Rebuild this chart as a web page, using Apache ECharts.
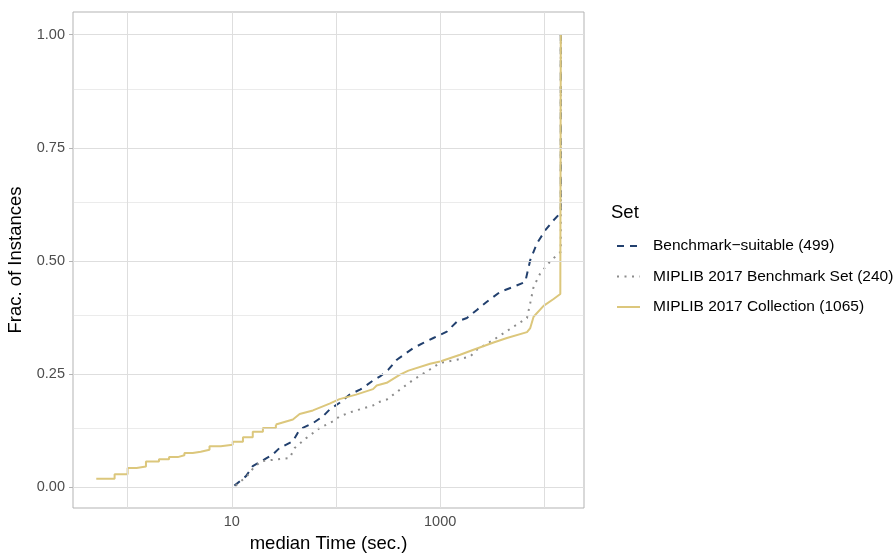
<!DOCTYPE html>
<html>
<head>
<meta charset="utf-8">
<script src="https://cdn.jsdelivr.net/npm/echarts@6/dist/echarts.min.js"></script>
<style>
  html, body { margin: 0; padding: 0; background: #fff; }
  #chart { width: 894px; height: 554px; }
</style>
</head>
<body>
<div id="chart"></div>
<script>
// series names
var setNames = ['Benchmark\u2212suitable (499)', 'MIPLIB 2017 Benchmark Set (240)', 'MIPLIB 2017 Collection (1065)'];

// median time (sec.) / fraction of instances
var suitableTime = [10.6, 13.7, 15.9, 20.6, 24.8, 28.7, 38.6, 44.8, 60.1, 75, 86.9, 108.6, 135.5, 170, 182, 227, 265, 318, 384, 554, 691, 862, 1160, 1448, 1807, 2254, 2812, 3776, 5070, 6565, 7330, 8503, 10230, 12280, 14250, 14400, 14400];
var suitableFrac = [0.004, 0.025, 0.047, 0.062, 0.073, 0.087, 0.102, 0.128, 0.142, 0.157, 0.172, 0.187, 0.205, 0.216, 0.220, 0.236, 0.245, 0.260, 0.282, 0.308, 0.319, 0.330, 0.344, 0.366, 0.374, 0.392, 0.410, 0.432, 0.443, 0.454, 0.502, 0.539, 0.568, 0.590, 0.606, 0.612, 1.0];

var benchTime = [10.9, 14, 16, 19.1, 35.9, 40.1, 51.8, 69.7, 93.5, 108.6, 146, 227, 246, 307, 412, 554, 745, 1000, 1448, 1941, 2254, 3257, 5070, 6820, 7330, 7890, 9150, 11000, 13710, 14400, 14400];
var benchFrac = [0.004, 0.025, 0.042, 0.058, 0.065, 0.087, 0.109, 0.131, 0.146, 0.157, 0.168, 0.181, 0.187, 0.194, 0.216, 0.238, 0.256, 0.275, 0.282, 0.289, 0.304, 0.326, 0.355, 0.374, 0.407, 0.443, 0.473, 0.495, 0.517, 0.52, 1.0];

// collection: coarse steps below ~30 s, dense above
var collLowTime = [0.5, 0.75, 1.0, 1.22, 1.5, 2.0, 2.5, 3.03, 3.51, 4.22, 5.03, 6.11, 7.84, 10.2, 12.8, 15.9, 19.9, 26.5];
var collLowFrac = [0.019, 0.029, 0.043, 0.046, 0.057, 0.062, 0.067, 0.071, 0.076, 0.079, 0.083, 0.091, 0.094, 0.101, 0.111, 0.123, 0.131, 0.139];
var collHighTime = [26.5, 38.6, 44.8, 60.1, 86.9, 108, 156, 227, 246, 307, 412, 496, 801, 1000, 1556, 2091, 3257, 4378, 6820, 7330, 7890, 9840, 12280, 14250, 14400, 14400];
var collHighFrac = [0.139, 0.150, 0.162, 0.170, 0.185, 0.195, 0.205, 0.217, 0.225, 0.231, 0.249, 0.258, 0.273, 0.278, 0.293, 0.304, 0.320, 0.330, 0.343, 0.352, 0.377, 0.401, 0.416, 0.427, 0.427, 1.0];

// axis breaks
var xLabels = [10, 1000];
var xGrid = [1, 10, 100, 1000, 10000];
var yLabels = [0, 0.25, 0.5, 0.75, 1];
var yMinor = [0.125, 0.375, 0.625, 0.875];

function pairs(xs, ys) {
	return xs.map(function (x, i) { return [x, ys[i]]; });
}

var gridLines = [];
xGrid.forEach(function (v) { gridLines.push({ xAxis: v, lineStyle: { width: 1 } }); });
yLabels.forEach(function (v) { gridLines.push({ yAxis: v, lineStyle: { width: 1 } }); });
yMinor.forEach(function (v) { gridLines.push({ yAxis: v, lineStyle: { width: 0.6 } }); });

var font = 'Liberation Sans';
var gold = '#dcc77c';

var myChart = echarts.init(document.getElementById('chart'));
myChart.setOption({
	animation: false,
	grid: {
		left: 73, top: 12, width: 511, height: 496,
		outerBoundsMode: 'none',
		containLabel: false,
		show: true, borderColor: '#b3b3b3', borderWidth: 1
	},
	xAxis: {
		type: 'log',
		logBase: 10,
		min: 0.299,
		max: 24050,
		name: 'median Time (sec.)',
		nameLocation: 'middle',
		nameGap: 26,
		nameTextStyle: { fontFamily: font, fontSize: 18.5, color: '#000' },
		axisLine: { show: false },
		axisTick: { show: true, customValues: xLabels, length: 4, lineStyle: { color: '#b3b3b3' } },
		axisLabel: {
			customValues: xLabels,
			formatter: function (v) { return String(Math.round(v)); },
			fontFamily: font, fontSize: 14.5, color: '#4d4d4d', margin: 6
		},
		splitLine: { show: false }
	},
	yAxis: {
		type: 'value',
		min: -0.0454,
		max: 1.0498,
		name: 'Frac. of Instances',
		nameLocation: 'middle',
		nameGap: 42,
		nameTextStyle: { fontFamily: font, fontSize: 18.5, color: '#000' },
		axisLine: { show: false },
		axisTick: { show: true, customValues: yLabels, length: 4, lineStyle: { color: '#b3b3b3' } },
		axisLabel: {
			customValues: yLabels,
			formatter: function (v) { return v.toFixed(2); },
			fontFamily: font, fontSize: 14.5, color: '#4d4d4d', margin: 8
		},
		splitLine: { show: false }
	},
	legend: {
		orient: 'vertical',
		left: 611,
		top: 233,
		itemWidth: 23,
		itemHeight: 14,
		itemGap: 14.5,
		itemStyle: { opacity: 0 },
		textStyle: { fontFamily: font, fontSize: 15.5, color: '#000', padding: [0, 0, 0, 8] },
		data: setNames
	},
	graphic: [{
		type: 'text',
		left: 611,
		top: 203,
		style: { text: 'Set', fontFamily: font, fontSize: 18.5, fill: '#000' }
	}],
	series: [
		{
			type: 'line',
			data: [],
			silent: true,
			z: 1,
			markLine: {
				silent: true,
				symbol: 'none',
				label: { show: false },
				lineStyle: { color: '#dedede', type: 'solid' },
				data: gridLines
			}
		},
		{
			name: setNames[0],
			type: 'line',
			showSymbol: false,
			symbol: 'none',
			z: 3,
			color: '#22406e',
			lineStyle: { color: '#22406e', width: 2, type: [7, 6] },
			data: pairs(suitableTime, suitableFrac)
		},
		{
			name: setNames[1],
			type: 'line',
			showSymbol: false,
			symbol: 'none',
			z: 3,
			color: '#8c8c8c',
			lineStyle: { color: '#8c8c8c', width: 2, type: [2, 5.5] },
			data: pairs(benchTime, benchFrac)
		},
		{
			name: setNames[2],
			type: 'line',
			showSymbol: false,
			symbol: 'none',
			z: 4,
			color: gold,
			lineStyle: { color: gold, width: 2 },
			data: pairs(collHighTime, collHighFrac)
		},
		{
			name: setNames[2],
			type: 'line',
			step: 'end',
			showSymbol: false,
			symbol: 'none',
			z: 4,
			color: gold,
			lineStyle: { color: gold, width: 2 },
			data: pairs(collLowTime, collLowFrac)
		}
	]
});
</script>
</body>
</html>
